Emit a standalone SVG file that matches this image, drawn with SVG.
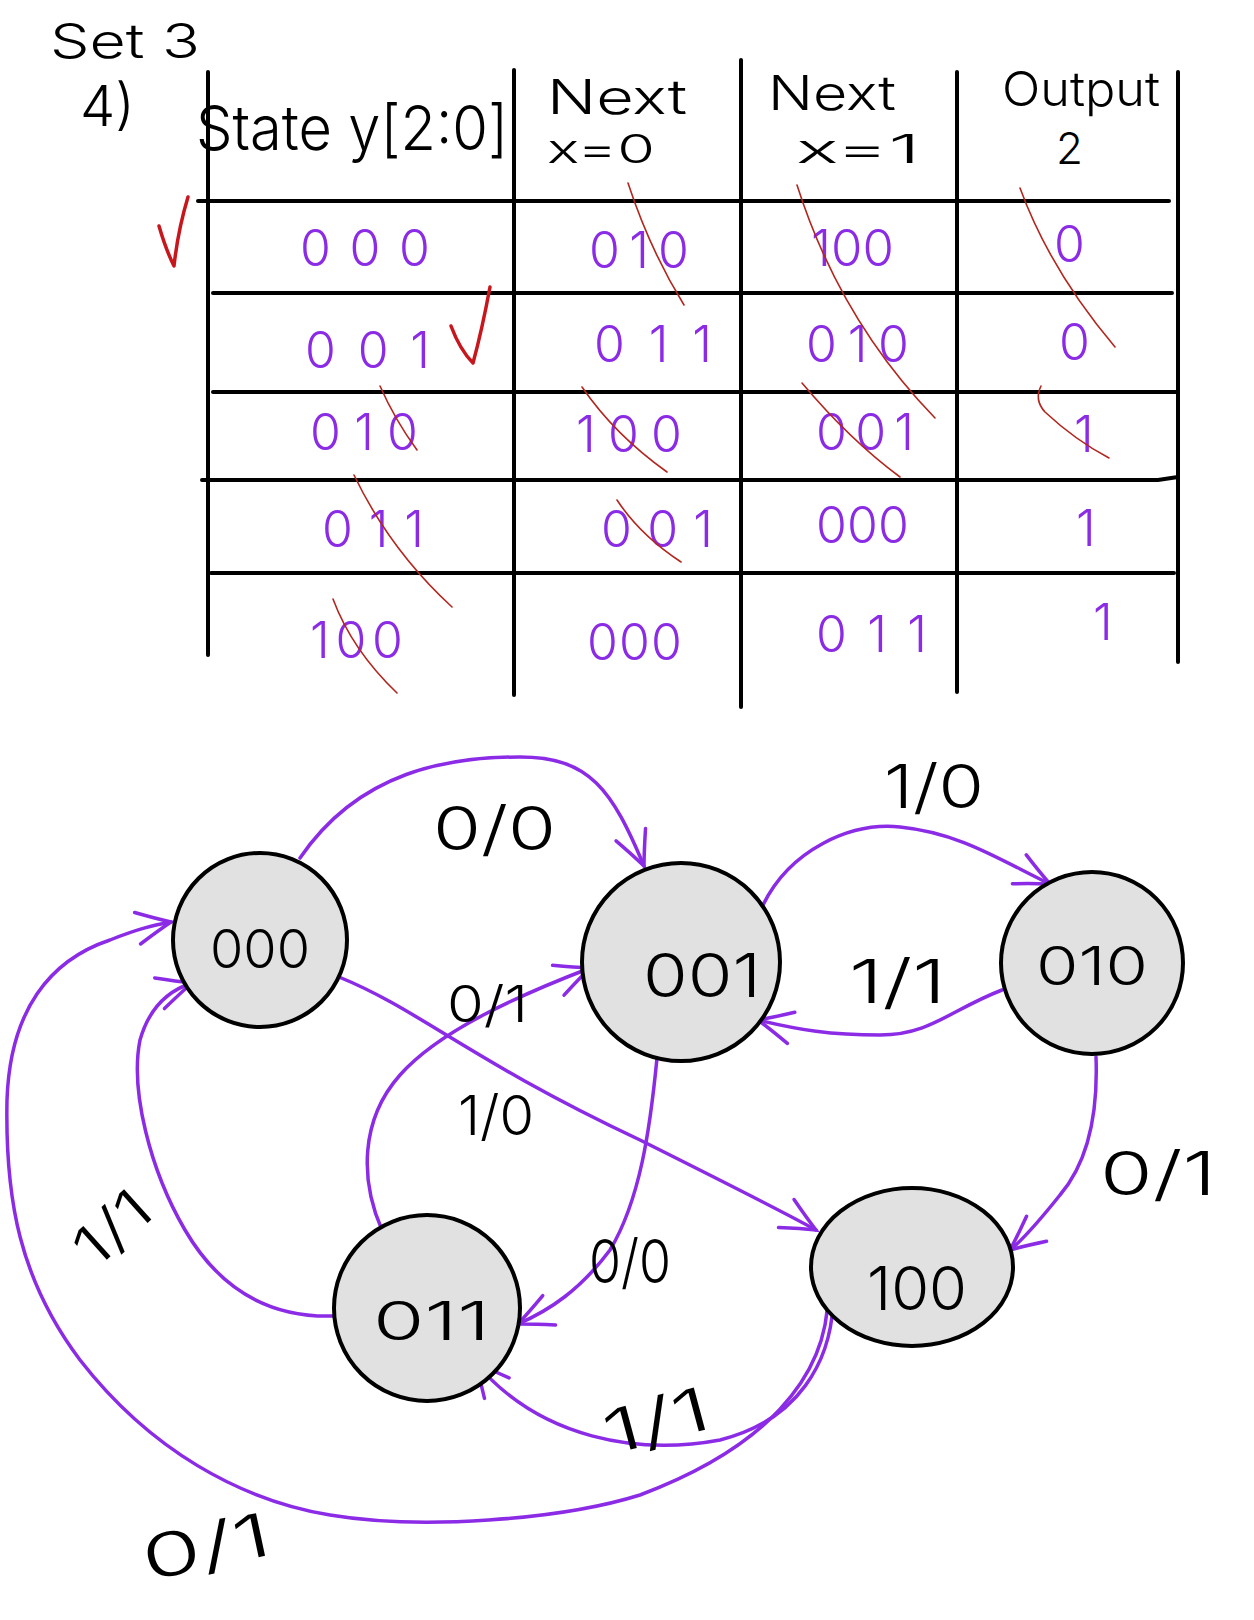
<svg xmlns="http://www.w3.org/2000/svg" width="1254" height="1620" viewBox="0 0 1254 1620">
  <style>
    .bg { fill: #ffffff; }
    .grid { stroke: #000; stroke-width: 4; stroke-linecap: round; fill: none; }
    .hw { font-family: Inter, "Liberation Sans", sans-serif; font-weight: 300; fill: #000; }
    .val { font-family: Inter, "Liberation Sans", sans-serif; font-weight: 300; fill: #8b2be6; font-size: 50px; }
    .tick { stroke: #c8161d; stroke-width: 3.5; fill: none; stroke-linecap: round; stroke-linejoin: round; }
    .strike { stroke: #b3261e; stroke-width: 1.6; fill: none; stroke-linecap: round; }
    .state { fill: #e1e1e1; stroke: #000; stroke-width: 4; }
    .slabel { font-size: 54px; }
    .elabel { font-size: 60px; }
    .edge { fill: none; stroke: #8b2be6; stroke-width: 3.5; stroke-linecap: round; marker-end: url(#arrow); }
  </style>
  <defs>
    <marker id="arrow" viewBox="-40 -22 46 44" refX="0" refY="0" markerWidth="46" markerHeight="44" markerUnits="userSpaceOnUse" orient="auto">
      <path d="M-34,-16 Q-14,-6 0,0 Q-14,6 -34,16" fill="none" stroke="#8b2be6" stroke-width="3.5" stroke-linecap="round"/>
    </marker>
  </defs>
  <rect class="bg" x="0" y="0" width="1254" height="1620"/>

  <!-- heading -->
  <g id="heading" class="hw">
    <text x="50" y="58" font-size="48" textLength="150" lengthAdjust="spacingAndGlyphs">Set 3</text>
    <text x="80" y="126" font-size="56">4)</text>
  </g>

  <!-- state table -->
  <g id="table">
    <g class="grid">
      <path d="M208,72 V655"/>
      <path d="M514,70 V695"/>
      <path d="M741,60 V707"/>
      <path d="M957,72 V692"/>
      <path d="M1178,72 V662"/>
      <path d="M198,201 H1169"/>
      <path d="M213,293 H1172"/>
      <path d="M213,392 H1176"/>
      <path d="M202,480 H1158 L1178,477"/>
      <path d="M211,573 H1174"/>
    </g>
    <g class="hw">
      <text x="196" y="150" font-size="62" textLength="312" lengthAdjust="spacingAndGlyphs">State y[2:0]</text>
      <text x="547" y="114" font-size="48" textLength="140" lengthAdjust="spacingAndGlyphs">Next</text>
      <text x="547" y="163" font-size="40" textLength="108" lengthAdjust="spacingAndGlyphs">x=0</text>
      <text x="768" y="110" font-size="48" textLength="128" lengthAdjust="spacingAndGlyphs">Next</text>
      <text x="796" y="163" font-size="40" textLength="124" lengthAdjust="spacingAndGlyphs">x=1</text>
      <text x="1002" y="106" font-size="48" textLength="158" lengthAdjust="spacingAndGlyphs">Output</text>
      <text x="1056" y="164" font-size="44">2</text>
    </g>
    <g class="val">
      <text x="300" y="266" textLength="130" lengthAdjust="spacing">000</text>
      <text x="589" y="268" textLength="100" lengthAdjust="spacing">010</text>
      <text x="811" y="266" textLength="83" lengthAdjust="spacingAndGlyphs">100</text>
      <text x="1054" y="262">0</text>

      <text x="305" y="368" textLength="125" lengthAdjust="spacing">001</text>
      <text x="594" y="362" textLength="118" lengthAdjust="spacing">011</text>
      <text x="806" y="362" textLength="103" lengthAdjust="spacing">010</text>
      <text x="1059" y="360">0</text>

      <text x="310" y="450" textLength="108" lengthAdjust="spacing">010</text>
      <text x="576" y="452" textLength="106" lengthAdjust="spacing">100</text>
      <text x="816" y="450" textLength="98" lengthAdjust="spacing">001</text>
      <text x="1074" y="452">1</text>

      <text x="322" y="547" textLength="102" lengthAdjust="spacing">011</text>
      <text x="601" y="547" textLength="112" lengthAdjust="spacing">001</text>
      <text x="816" y="543" textLength="93" lengthAdjust="spacing">000</text>
      <text x="1076" y="546">1</text>

      <text x="310" y="658" textLength="93" lengthAdjust="spacing">100</text>
      <text x="587" y="660" textLength="95" lengthAdjust="spacing">000</text>
      <text x="816" y="652" textLength="111" lengthAdjust="spacing">011</text>
      <text x="1093" y="640">1</text>
    </g>
    <!-- check marks and strike-throughs -->
    <path class="tick" d="M159,226 Q166,250 174,266 Q178,230 188,197"/>
    <path class="tick" d="M451,326 Q460,350 473,363 Q482,330 490,287"/>
    <g class="strike">
      <path d="M628,183 Q650,250 684,305"/>
      <path d="M797,185 Q840,320 935,418"/>
      <path d="M1020,188 Q1050,270 1115,347"/>
      <path d="M380,386 Q395,420 417,450"/>
      <path d="M354,475 Q390,550 452,607"/>
      <path d="M333,599 Q352,650 397,693"/>
      <path d="M582,387 Q615,435 667,472"/>
      <path d="M617,500 Q640,535 681,562"/>
      <path d="M802,383 Q850,440 900,477"/>
      <path d="M1041,386 Q1034,400 1045,412 Q1075,440 1109,458"/>
    </g>
  </g>

  <!-- transitions -->
  <g id="edges">
    <path class="edge" d="M300,858 C360,770 450,757 520,757 C590,757 612,790 644,866"/>
    <path class="edge" d="M763,905 C790,850 850,822 900,827 C960,833 1000,860 1050,884"/>
    <path class="edge" d="M1002,990 C950,1010 930,1035 880,1035 C830,1035 800,1030 758,1020"/>
    <path class="edge" d="M339,977 C420,1010 470,1060 640,1140 C720,1180 780,1210 816,1230"/>
    <path class="edge" d="M382,1230 C360,1180 360,1120 400,1075 C440,1030 520,995 590,968"/>
    <path class="edge" d="M657,1058 C650,1130 640,1200 610,1250 C580,1290 550,1310 518,1324"/>
    <path class="edge" d="M1096,1057 C1098,1110 1090,1160 1060,1195 C1040,1220 1025,1238 1010,1250"/>
    <path class="edge" d="M833,1305 C830,1360 800,1420 720,1440 C640,1455 540,1440 475,1362"/>
    <path class="edge" d="M828,1290 C830,1380 760,1450 640,1495 C560,1520 420,1530 330,1515 C240,1500 150,1450 80,1360 C20,1280 5,1200 7,1100 C10,1010 50,960 110,940 C140,928 155,925 171,922"/>
    <path class="edge" d="M334,1316 C270,1318 220,1290 185,1230 C150,1170 130,1090 140,1040 C150,1005 170,990 192,983"/>
  </g>

  <!-- transition labels -->
  <g id="edge-labels" class="hw elabel">
    <text x="433" y="850" textLength="123" lengthAdjust="spacingAndGlyphs">0/0</text>
    <text x="884" y="808" textLength="100" lengthAdjust="spacingAndGlyphs">1/0</text>
    <text x="849" y="1003" textLength="97" lengthAdjust="spacingAndGlyphs">1/1</text>
    <text x="447" y="1022" font-size="50" textLength="81" lengthAdjust="spacingAndGlyphs">0/1</text>
    <text x="458" y="1135" font-size="55" textLength="76" lengthAdjust="spacingAndGlyphs">1/0</text>
    <text x="1100" y="1195" textLength="116" lengthAdjust="spacingAndGlyphs">0/1</text>
    <text x="589" y="1283" textLength="82" lengthAdjust="spacingAndGlyphs">0/0</text>
    <text x="0" y="0" font-size="56" textLength="84" lengthAdjust="spacingAndGlyphs" transform="translate(112,1228) rotate(-42) translate(-42,20)">1/1</text>
    <text x="0" y="0" textLength="108" lengthAdjust="spacingAndGlyphs" transform="translate(656,1420) rotate(-15) translate(-54,22)">1/1</text>
    <text x="0" y="0" textLength="130" lengthAdjust="spacingAndGlyphs" transform="translate(206,1546) rotate(-12) translate(-65,22)">0/1</text>
  </g>

  <!-- states -->
  <g id="node-000" class="hw slabel">
    <circle class="state" cx="260" cy="940" r="87"/>
    <text x="210" y="968" textLength="100" lengthAdjust="spacingAndGlyphs">000</text>
  </g>
  <g id="node-001" class="hw slabel">
    <circle class="state" cx="681" cy="962" r="99"/>
    <text x="643" y="997" font-size="60" textLength="118" lengthAdjust="spacingAndGlyphs">001</text>
  </g>
  <g id="node-010" class="hw slabel">
    <circle class="state" cx="1092" cy="963" r="91"/>
    <text x="1036" y="985" textLength="112" lengthAdjust="spacingAndGlyphs">010</text>
  </g>
  <g id="node-011" class="hw slabel">
    <circle class="state" cx="427" cy="1308" r="93"/>
    <text x="373" y="1340" textLength="117" lengthAdjust="spacingAndGlyphs">011</text>
  </g>
  <g id="node-100" class="hw slabel">
    <ellipse class="state" cx="912" cy="1267" rx="101" ry="79"/>
    <text x="867" y="1310" font-size="60" textLength="100" lengthAdjust="spacingAndGlyphs">100</text>
  </g>
</svg>
